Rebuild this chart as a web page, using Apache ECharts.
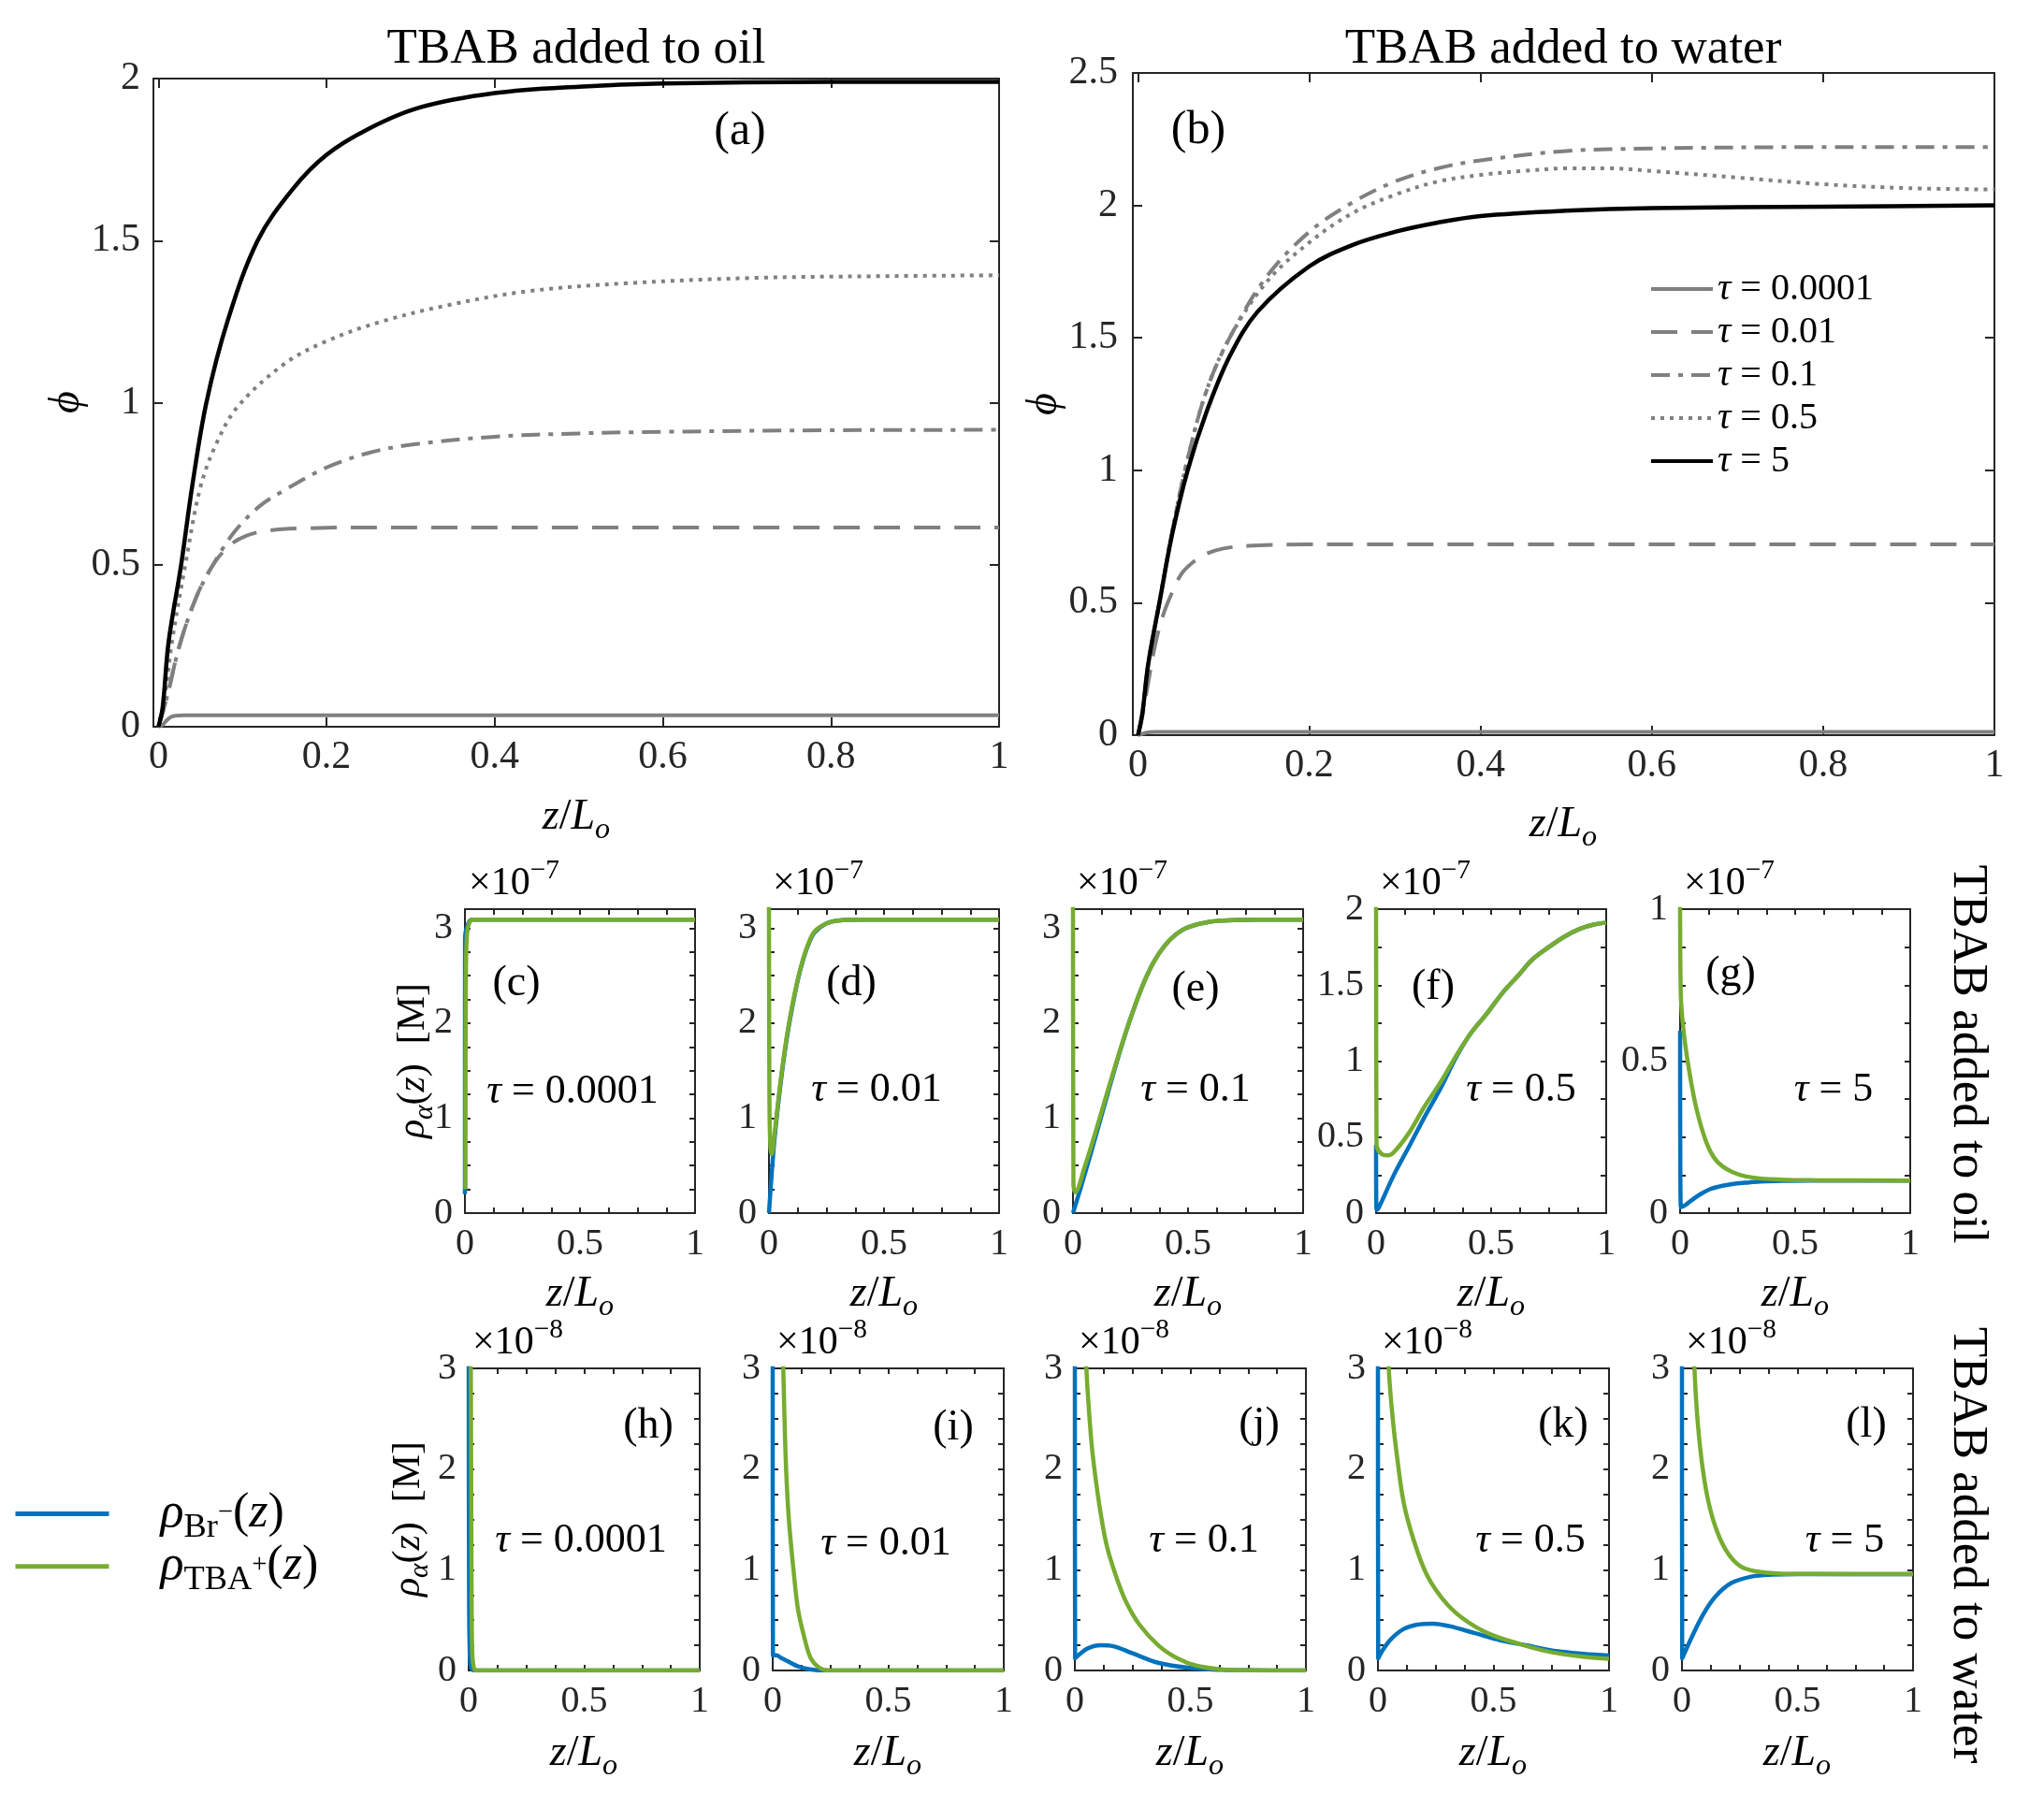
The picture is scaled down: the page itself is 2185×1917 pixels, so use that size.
<!DOCTYPE html>
<html><head><meta charset="utf-8">
<script src="https://cdn.jsdelivr.net/npm/echarts@6/dist/echarts.min.js"></script>
<style>html,body{margin:0;padding:0;background:#fff}#c{width:2185px;height:1917px}</style>
</head><body><div id="c"></div>
<script>
// ================= DATA =================
const tauNames = ['τ = 0.0001', 'τ = 0.01', 'τ = 0.1', 'τ = 0.5', 'τ = 5'];
const mainTicksX = [0, 0.2, 0.4, 0.6, 0.8, 1];
const aTicksY = [0, 0.5, 1, 1.5, 2];
const bTicksY = [0, 0.5, 1, 1.5, 2, 2.5];
const smallLabelsX = [0, 0.5, 1];
const smallTicksX = [0, 0.125, 0.25, 0.375, 0.5, 0.625, 0.75, 0.875, 1];
const labels0to3 = [0, 1, 2, 3];
const ticks0to3 = [0, 0.25, 0.5, 0.75, 1, 1.25, 1.5, 1.75, 2, 2.25, 2.5, 2.75, 3];
const labelsF = [0, 0.5, 1, 1.5, 2];
const ticksF = [0, 0.25, 0.5, 0.75, 1, 1.25, 1.5, 1.75, 2];
const labelsG = [0, 0.5, 1];
const ticksG = [0, 0.125, 0.25, 0.375, 0.5, 0.625, 0.75, 0.875, 1];

// (a) TBAB added to oil, phi
const a1_z = [0, 0.005, 0.01, 0.015, 0.02, 0.03, 1.0];
const a1_v = [0, 0.006, 0.02, 0.03, 0.034, 0.035, 0.035];
const a2_z = [0, 0.01, 0.025, 0.045, 0.065, 0.085, 0.105, 0.13, 0.17, 0.25, 1.0];
const a2_v = [0, 0.09, 0.25, 0.4, 0.5, 0.56, 0.59, 0.605, 0.612, 0.615, 0.615];
const a3_z = [0, 0.01, 0.025, 0.045, 0.065, 0.09, 0.12, 0.15, 0.2, 0.25, 0.3, 0.4, 0.5, 0.6, 0.8, 1.0];
const a3_v = [0, 0.09, 0.25, 0.4, 0.5, 0.6, 0.68, 0.73, 0.8, 0.845, 0.87, 0.895, 0.905, 0.91, 0.915, 0.916];
const a4_z = [0, 0.008, 0.016, 0.032, 0.05, 0.07, 0.095, 0.15, 0.2, 0.265, 0.343, 0.437, 0.554, 0.71, 0.85, 1.0];
const a4_v = [0, 0.1, 0.26, 0.5, 0.74, 0.88, 0.99, 1.12, 1.19, 1.25, 1.30, 1.343, 1.368, 1.385, 1.39, 1.393];
const a5_z = [0, 0.005, 0.012, 0.027, 0.04, 0.057, 0.082, 0.118, 0.16, 0.2, 0.25, 0.31, 0.4, 0.5, 0.6, 0.8, 1.0];
const a5_v = [0, 0.06, 0.26, 0.5, 0.74, 1.0, 1.25, 1.5, 1.66, 1.765, 1.845, 1.91, 1.955, 1.975, 1.985, 1.99, 1.99];

// (b) TBAB added to water, phi
const b1_z = [0, 0.005, 0.01, 0.02, 1.0];
const b1_v = [0, 0.005, 0.01, 0.012, 0.012];
const b2_z = [0, 0.005, 0.012, 0.02, 0.029, 0.04, 0.051, 0.065, 0.08, 0.1, 0.13, 0.2, 0.3, 1.0];
const b2_v = [0, 0.07, 0.2, 0.34, 0.45, 0.54, 0.61, 0.655, 0.685, 0.705, 0.715, 0.72, 0.72, 0.72];
const b3_z = [0, 0.005, 0.012, 0.025, 0.04, 0.057, 0.08, 0.107, 0.15, 0.2, 0.25, 0.3, 0.35, 0.4, 0.5, 0.6, 0.8, 1.0];
const b3_v = [0, 0.08, 0.27, 0.5, 0.77, 1.03, 1.3, 1.5, 1.73, 1.9, 2.01, 2.09, 2.14, 2.17, 2.205, 2.215, 2.22, 2.22];
const b4_z = [0, 0.005, 0.012, 0.025, 0.04, 0.057, 0.08, 0.107, 0.15, 0.2, 0.25, 0.3, 0.35, 0.4, 0.45, 0.5, 0.55, 0.6, 0.7, 0.8, 0.9, 1.0];
const b4_v = [0, 0.08, 0.27, 0.5, 0.77, 1.03, 1.3, 1.5, 1.71, 1.86, 1.97, 2.04, 2.09, 2.115, 2.13, 2.14, 2.14, 2.13, 2.105, 2.08, 2.065, 2.06];
const b5_z = [0, 0.005, 0.012, 0.025, 0.04, 0.058, 0.08, 0.107, 0.14, 0.2, 0.25, 0.3, 0.35, 0.4, 0.5, 0.6, 0.8, 1.0];
const b5_v = [0, 0.08, 0.27, 0.5, 0.76, 1.0, 1.22, 1.43, 1.6, 1.77, 1.85, 1.9, 1.935, 1.96, 1.98, 1.99, 1.995, 2.0];

// densities, row 1 (x 1e-7 M)
const c_blue_z = [0, 0.0005, 0.01, 0.03, 1.0];
const c_blue_v = [0.2, 2.9, 3.02, 3.09, 3.09];
const c_green_z = [0.002, 0.004, 0.008, 0.018, 0.035, 1.0];
const c_green_v = [0.25, 2.4, 2.9, 3.05, 3.09, 3.09];
const d_blue_z = [0, 0.01, 0.025, 0.05, 0.075, 0.1, 0.125, 0.15, 0.175, 0.2, 0.25, 0.3, 0.4, 1.0];
const d_blue_v = [0, 0.35, 0.8, 1.35, 1.8, 2.15, 2.45, 2.68, 2.85, 2.96, 3.05, 3.08, 3.09, 3.09];
const d_green_z = [0, 0.002, 0.006, 0.012, 0.025, 0.05, 0.075, 0.1, 0.125, 0.15, 0.175, 0.2, 0.25, 0.3, 0.4, 1.0];
const d_green_v = [3.3, 1.2, 0.7, 0.62, 0.85, 1.38, 1.82, 2.17, 2.46, 2.69, 2.86, 2.97, 3.05, 3.08, 3.09, 3.09];
const e_blue_z = [0, 0.05, 0.1, 0.15, 0.2, 0.25, 0.3, 0.35, 0.4, 0.45, 0.5, 0.6, 0.7, 0.8, 1.0];
const e_blue_v = [0, 0.4, 0.82, 1.25, 1.67, 2.05, 2.38, 2.64, 2.82, 2.94, 3.01, 3.07, 3.085, 3.09, 3.09];
const e_green_z = [0, 0.002, 0.01, 0.05, 0.1, 0.15, 0.2, 0.25, 0.3, 0.35, 0.4, 0.45, 0.5, 0.6, 0.7, 0.8, 1.0];
const e_green_v = [3.3, 0.3, 0.22, 0.48, 0.87, 1.28, 1.68, 2.05, 2.38, 2.64, 2.82, 2.94, 3.01, 3.07, 3.085, 3.09, 3.09];
const f_blue_z = [0, 0.002, 0.01, 0.077, 0.144, 0.21, 0.28, 0.346, 0.41, 0.48, 0.55, 0.616, 0.68, 0.75, 0.82, 0.885, 0.95, 1.0];
const f_blue_v = [0.45, 0.02, 0.03, 0.25, 0.44, 0.63, 0.82, 1.02, 1.18, 1.31, 1.45, 1.56, 1.67, 1.75, 1.82, 1.87, 1.9, 1.91];
const f_green_z = [0, 0.002, 0.023, 0.05, 0.077, 0.144, 0.21, 0.28, 0.346, 0.41, 0.48, 0.55, 0.616, 0.68, 0.75, 0.82, 0.885, 0.95, 1.0];
const f_green_v = [2.05, 0.45, 0.39, 0.38, 0.4, 0.53, 0.70, 0.86, 1.03, 1.18, 1.31, 1.45, 1.56, 1.67, 1.75, 1.82, 1.87, 1.9, 1.91];
const g_blue_z = [0, 0.003, 0.02, 0.048, 0.09, 0.134, 0.19, 0.24, 0.3, 0.35, 0.45, 0.57, 1.0];
const g_blue_v = [0.6, 0.02, 0.025, 0.041, 0.063, 0.08, 0.091, 0.097, 0.101, 0.104, 0.106, 0.107, 0.107];
const g_green_z = [0, 0.003, 0.015, 0.037, 0.069, 0.113, 0.156, 0.22, 0.307, 0.437, 0.6, 1.0];
const g_green_v = [1.05, 0.72, 0.6, 0.48, 0.35, 0.235, 0.174, 0.138, 0.118, 0.11, 0.108, 0.107];

// densities, row 2 (x 1e-8 M)
const h_blue_z = [0, 0.002, 0.006, 0.012, 0.03, 1.0];
const h_blue_v = [3.3, 0.6, 0.1, 0.02, 0, 0];
const h_green_z = [0.009, 0.011, 0.013, 0.016, 0.022, 0.03, 1.0];
const h_green_v = [3.3, 1.8, 0.6, 0.15, 0.03, 0, 0];
const i_blue_z = [0, 0.001, 0.015, 0.04, 0.07, 0.11, 0.16, 0.22, 1.0];
const i_blue_v = [3.3, 0.15, 0.15, 0.12, 0.085, 0.04, 0.012, 0, 0];
const i_green_z = [0.043, 0.05, 0.058, 0.07, 0.09, 0.11, 0.14, 0.165, 0.2, 0.24, 1.0];
const i_green_v = [3.3, 2.6, 2.0, 1.5, 1.0, 0.6, 0.3, 0.12, 0.03, 0, 0];
const j_blue_z = [0, 0.001, 0.02, 0.056, 0.111, 0.167, 0.25, 0.36, 0.5, 0.64, 0.75, 1.0];
const j_blue_v = [3.3, 0.12, 0.16, 0.22, 0.25, 0.24, 0.17, 0.077, 0.025, 0.006, 0.002, 0];
const j_green_z = [0.048, 0.05, 0.069, 0.083, 0.111, 0.139, 0.18, 0.222, 0.278, 0.361, 0.444, 0.528, 0.64, 0.75, 1.0];
const j_green_v = [3.3, 3.0, 2.34, 2.03, 1.57, 1.23, 0.925, 0.68, 0.46, 0.25, 0.12, 0.046, 0.01, 0.002, 0];
const k_blue_z = [0, 0.001, 0.02, 0.056, 0.11, 0.17, 0.238, 0.31, 0.42, 0.53, 0.64, 0.78, 0.89, 1.0];
const k_blue_v = [3.3, 0.12, 0.2, 0.31, 0.41, 0.455, 0.465, 0.44, 0.37, 0.30, 0.25, 0.19, 0.165, 0.148];
const k_green_z = [0.045, 0.047, 0.064, 0.084, 0.112, 0.154, 0.21, 0.28, 0.363, 0.475, 0.615, 0.754, 0.894, 1.0];
const k_green_v = [3.3, 3.0, 2.5, 2.1, 1.66, 1.3, 0.956, 0.71, 0.524, 0.37, 0.262, 0.18, 0.135, 0.115];
const l_blue_z = [0, 0.001, 0.036, 0.09, 0.143, 0.215, 0.305, 0.39, 0.5, 0.7, 1.0];
const l_blue_v = [3.3, 0.12, 0.3, 0.55, 0.73, 0.87, 0.935, 0.952, 0.957, 0.957, 0.957];
const l_green_z = [0.052, 0.054, 0.068, 0.09, 0.116, 0.152, 0.197, 0.25, 0.32, 0.43, 0.57, 1.0];
const l_green_v = [3.3, 3.0, 2.47, 2.0, 1.66, 1.38, 1.17, 1.04, 0.985, 0.962, 0.958, 0.957];

// ================= BUILD =================
const FONT = '"Liberation Serif", "DejaVu Serif", serif';
const AX = '#262626';
const GRAY = '#808080';
const BLUE = '#0072BD', GREEN = '#77AC30';
const NOFILL = 'rgba(0,0,0,0)';
const zip = (z, v) => z.map((x, k) => [x, v[k]]);

const grids = [], xAxes = [], yAxes = [], series = [], graphics = [];

function addPanel(p) {
  const gi = grids.length;
  grids.push({left: p.left, top: p.top, width: p.width, height: p.height, containLabel: false, outerBoundsMode: 'none'});
  const base = {gridIndex: gi, type: 'value', splitLine: {show: false},
    axisLine: {show: true, onZero: false, lineStyle: {color: AX, width: 2}}};
  const tick = (vals) => ({show: true, inside: true, length: p.tickLen, customValues: vals, lineStyle: {color: AX, width: 2}});
  const lab = (vals, margin) => ({show: true, customValues: vals, fontFamily: FONT, fontSize: p.fs, color: AX, margin: margin});
  xAxes.push(Object.assign({}, base, {position: 'bottom', min: p.xmin, max: p.xmax, axisTick: tick(p.xTicks), axisLabel: lab(p.xLabels, p.xm)}));
  xAxes.push(Object.assign({}, base, {position: 'top', min: p.xmin, max: p.xmax, axisTick: tick(p.xTicks), axisLabel: {show: false}}));
  yAxes.push(Object.assign({}, base, {position: 'left', min: p.ymin, max: p.ymax, axisTick: tick(p.yTicks), axisLabel: lab(p.yLabels, p.ym)}));
  yAxes.push(Object.assign({}, base, {position: 'right', min: p.ymin, max: p.ymax, axisTick: tick(p.yTicks), axisLabel: {show: false}}));
  const xi = xAxes.length - 2, yi = yAxes.length - 2;
  p.series.forEach(s => series.push({
    type: 'line', name: s.name, xAxisIndex: xi, yAxisIndex: yi, data: zip(s.z, s.v),
    showSymbol: false, symbol: 'none', smooth: 0.35, clip: true,
    lineStyle: {color: s.color, width: s.width, type: s.type || 'solid', cap: 'butt', join: 'round'},
    itemStyle: {color: NOFILL, borderWidth: 0}, animation: false, silent: true
  }));
}

const DASH = [28, 15], DASHDOT = [20, 9, 5, 9], DOT = [4, 6];
function mainSeries(d) {
  return [
    {name: tauNames[0], z: d[0][0], v: d[0][1], color: GRAY, width: 4},
    {name: tauNames[1], z: d[1][0], v: d[1][1], color: GRAY, width: 4, type: DASH},
    {name: tauNames[2], z: d[2][0], v: d[2][1], color: GRAY, width: 4, type: DASHDOT},
    {name: tauNames[3], z: d[3][0], v: d[3][1], color: GRAY, width: 4, type: DOT},
    {name: tauNames[4], z: d[4][0], v: d[4][1], color: '#000', width: 4.5}
  ];
}
addPanel({left: 164, top: 84, width: 904, height: 693, xmin: -0.006, xmax: 1, ymin: 0, ymax: 2,
  xTicks: mainTicksX, xLabels: mainTicksX, yTicks: aTicksY, yLabels: aTicksY, fs: 42, tickLen: 10, xm: 12, ym: 14,
  series: mainSeries([[a1_z, a1_v], [a2_z, a2_v], [a3_z, a3_v], [a4_z, a4_v], [a5_z, a5_v]])});
addPanel({left: 1211, top: 78, width: 921, height: 708, xmin: -0.006, xmax: 1, ymin: 0, ymax: 2.5,
  xTicks: mainTicksX, xLabels: mainTicksX, yTicks: bTicksY, yLabels: bTicksY, fs: 42, tickLen: 10, xm: 12, ym: 16,
  series: mainSeries([[b1_z, b1_v], [b2_z, b2_v], [b3_z, b3_v], [b4_z, b4_v], [b5_z, b5_v]])});

const row1Left = [497, 822, 1147, 1471, 1796];
const row2Left = [501, 826, 1149, 1473, 1798];
const row1 = [
  {ymax: 3.2, yl: labels0to3, yt: ticks0to3, b: [c_blue_z, c_blue_v], g: [c_green_z, c_green_v]},
  {ymax: 3.2, yl: labels0to3, yt: ticks0to3, b: [d_blue_z, d_blue_v], g: [d_green_z, d_green_v]},
  {ymax: 3.2, yl: labels0to3, yt: ticks0to3, b: [e_blue_z, e_blue_v], g: [e_green_z, e_green_v]},
  {ymax: 2, yl: labelsF, yt: ticksF, b: [f_blue_z, f_blue_v], g: [f_green_z, f_green_v]},
  {ymax: 1, yl: labelsG, yt: ticksG, b: [g_blue_z, g_blue_v], g: [g_green_z, g_green_v]}
];
const row2 = [
  {b: [h_blue_z, h_blue_v], g: [h_green_z, h_green_v]},
  {b: [i_blue_z, i_blue_v], g: [i_green_z, i_green_v]},
  {b: [j_blue_z, j_blue_v], g: [j_green_z, j_green_v]},
  {b: [k_blue_z, k_blue_v], g: [k_green_z, k_green_v]},
  {b: [l_blue_z, l_blue_v], g: [l_green_z, l_green_v]}
];
function smallSeries(r) {
  return [
    {name: 'Br', z: r.b[0], v: r.b[1], color: BLUE, width: 4.5},
    {name: 'TBA', z: r.g[0], v: r.g[1], color: GREEN, width: 4.5}
  ];
}
row1.forEach((r, k) => addPanel({left: row1Left[k], top: 972, width: 246, height: 325, xmin: 0, xmax: 1, ymin: 0, ymax: r.ymax,
  xTicks: smallTicksX, xLabels: smallLabelsX, yTicks: r.yt, yLabels: r.yl, fs: 40, tickLen: 6, xm: 13, ym: 13, series: smallSeries(r)}));
row2.forEach((r, k) => addPanel({left: row2Left[k], top: 1463, width: 247, height: 323, xmin: 0, xmax: 1, ymin: 0, ymax: 3,
  xTicks: smallTicksX, xLabels: smallLabelsX, yTicks: ticks0to3, yLabels: labels0to3, fs: 40, tickLen: 6, xm: 13, ym: 13, series: smallSeries(r)}));

// ---------- rich text helpers ----------
function richFor(F, gapW) {
  const B = 0.2 * F, L = 1.4 * F, f = 0.7 * F;
  const base = {fontFamily: FONT, color: '#000', lineHeight: L, verticalAlign: 'top'};
  return {
    n: Object.assign({}, base, {fontSize: F, padding: [B, 0, 0, 0]}),
    i: Object.assign({}, base, {fontSize: F, fontStyle: 'italic', padding: [B, 0, 0, 0]}),
    sb: Object.assign({}, base, {fontSize: f, padding: [B + 0.44 * F, 0, 0, 0]}),
    si: Object.assign({}, base, {fontSize: f, fontStyle: 'italic', padding: [B + 0.44 * F, 0, 0, 0]}),
    sp: Object.assign({}, base, {fontSize: f, padding: [Math.max(0, B - 0.16 * F), 0, 0, 0]}),
    ss: Object.assign({}, base, {fontSize: 0.55 * F, padding: [B + 0.2 * F, 0, 0, 0]}),
    gap: Object.assign({}, base, {fontSize: F, width: gapW || 0, padding: [B, 0, 0, 0]})
  };
}
function txt(x, y, text, F, opt) {
  opt = opt || {};
  graphics.push({type: 'text', x: x, y: y, rotation: opt.rot || 0, silent: true,
    style: {text: text, rich: richFor(F), fontFamily: FONT, fontSize: F, fill: '#000',
      align: opt.align || 'center', verticalAlign: 'middle'}});
}
const ZL = '{i|z}{n|/}{i|L}{si|o}';
const TAU = (s) => '{i|τ}{n| = ' + s + '}';
const RHO_A = '{i|ρ}{si|α}{n|(}{i|z}{n|)  [M]}';

// main panel texts
txt(616, 53, '{n|TBAB added to oil}', 53);
txt(1671, 53, '{n|TBAB added to water}', 53);
txt(791, 141, '{n|(a)}', 50);
txt(1281, 140, '{n|(b)}', 50);
txt(72, 430, '{i|ϕ}', 46, {rot: Math.PI / 2});
txt(1117, 432, '{i|ϕ}', 46, {rot: Math.PI / 2});
txt(616, 874, ZL, 46);
txt(1671, 882, ZL, 46);

// small panel texts
const row1Letters = [['(c)', 552, 1052], ['(d)', 910, 1052], ['(e)', 1278, 1058], ['(f)', 1532, 1056], ['(g)', 1850, 1042]];
const row2Letters = [['(h)', 693, 1525], ['(i)', 1019, 1527], ['(j)', 1346, 1524], ['(k)', 1671, 1524], ['(l)', 1995, 1524]];
const row1Tau = [['0.0001', 612, 1167], ['0.01', 937, 1165], ['0.1', 1278, 1165], ['0.5', 1626, 1165], ['5', 1960, 1165]];
const row2Tau = [['0.0001', 621, 1647], ['0.01', 947, 1650], ['0.1', 1287, 1647], ['0.5', 1636, 1647], ['5', 1972, 1647]];
row1Letters.concat(row2Letters).forEach(t => txt(t[1], t[2], '{n|' + t[0] + '}', 46));
row1Tau.concat(row2Tau).forEach(t => txt(t[1], t[2], TAU(t[0]), 44));
row1Left.forEach(l => { txt(l + 4, 945, '{n|×10}{sp|−7}', 42, {align: 'left'}); txt(l + 123, 1384, ZL, 46); });
row2Left.forEach(l => { txt(l + 4, 1436, '{n|×10}{sp|−8}', 42, {align: 'left'}); txt(l + 123, 1875, ZL, 46); });
txt(442, 1134, RHO_A, 42, {rot: Math.PI / 2});
txt(437, 1624, RHO_A, 42, {rot: Math.PI / 2});
txt(2103, 1127, '{n|TBAB added to oil}', 53, {rot: -Math.PI / 2});
txt(2103, 1652, '{n|TBAB added to water}', 53, {rot: -Math.PI / 2});

// ---------- legends ----------
const legRich = {
  i: {fontFamily: FONT, fontSize: 40, fontStyle: 'italic', lineHeight: 40, color: '#000'},
  n: {fontFamily: FONT, fontSize: 40, lineHeight: 40, color: '#000'}
};
const legend1 = {
  show: true, orient: 'vertical', left: 1758, top: 284, padding: 5, itemWidth: 66, itemHeight: 14, itemGap: 6,
  selectedMode: false, data: tauNames,
  itemStyle: {color: NOFILL, borderWidth: 0, opacity: 0},
  lineStyle: {width: 4, type: 'inherit', color: 'inherit', cap: 'butt'},
  formatter: (name) => '{i|τ}{n| = ' + name.split('= ')[1] + '}',
  textStyle: {rich: legRich}
};
const legend2 = {
  show: true, orient: 'vertical', left: 9, top: 1577, padding: 5, itemWidth: 100, itemHeight: 14, itemGap: -13,
  selectedMode: false, data: ['Br', 'TBA'],
  itemStyle: {color: NOFILL, borderWidth: 0, opacity: 0},
  lineStyle: {width: 5, type: 'inherit', color: 'inherit', cap: 'butt'},
  formatter: (name) => name === 'Br'
    ? '{gap|}{i|ρ}{sb|Br}{ss|−}{n|(}{i|z}{n|)}'
    : '{gap|}{i|ρ}{sb|TBA}{ss|+}{n|(}{i|z}{n|)}',
  textStyle: {rich: richFor(52, 50)}
};

const chart = echarts.init(document.getElementById('c'), null, {renderer: 'canvas'});
chart.setOption({
  backgroundColor: '#fff',
  animation: false,
  grid: grids, xAxis: xAxes, yAxis: yAxes, series: series,
  legend: [legend1, legend2],
  graphic: graphics
});
</script>
</body></html>
